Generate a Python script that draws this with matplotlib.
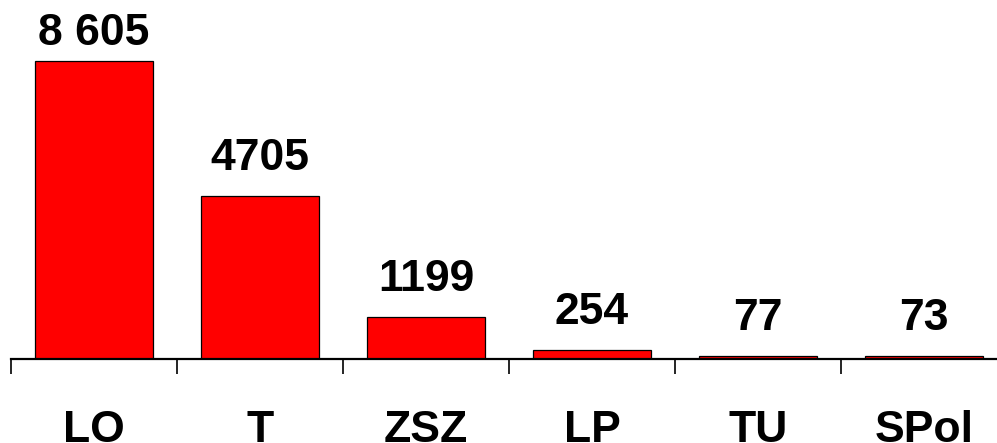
import matplotlib
matplotlib.use("Agg")
import matplotlib.pyplot as plt
import matplotlib.transforms as mtransforms

categories = ["LO", "T", "ZSZ", "LP", "TU", "SPol"]
values = [8605, 4705, 1199, 254, 77, 73]
value_labels = ["8 605", "4705", "1199", "254", "77", "73"]

plt.rcParams['font.family'] = ['Liberation Sans', 'DejaVu Sans']

W, H = 997, 443
fig = plt.figure(figsize=(W / 100, H / 100), dpi=100)
ax_left_px, ax_right_px = 11, 1007
ax_bottom_px, ax_top_px = 359, 10
ax = fig.add_axes([ax_left_px / W, 1 - ax_bottom_px / H,
                   (ax_right_px - ax_left_px) / W, (ax_bottom_px - ax_top_px) / H])

n = len(categories)
xs = list(range(n))
ax.bar(xs, values, width=0.71, color="#ff0000", edgecolor="black", linewidth=0.9, zorder=2)

ax.set_xlim(-0.5, n - 0.5)
ymax = max(values) * (ax_bottom_px - ax_top_px) / (ax_bottom_px - 61)
ax.set_ylim(0, ymax)

for s in ["top", "right", "left"]:
    ax.spines[s].set_visible(False)
ax.spines["bottom"].set_linewidth(1.6)
ax.spines["bottom"].set_zorder(3)
ax.set_yticks([])
ax.set_xticks([i - 0.5 for i in range(n + 1)])
ax.set_xticklabels([])
ax.tick_params(axis="x", direction="out", length=11, width=1.2, color="black")

vmax = max(values)
for x, v, lab in zip(xs, values, value_labels):
    off = 11.5 if v == vmax else 18.8
    ax.annotate(lab, xy=(x, v), xytext=(0, off), textcoords="offset points",
                ha="center", va="baseline", fontsize=32, fontweight="bold",
                color="black", annotation_clip=False)

trans = mtransforms.blended_transform_factory(ax.transData, fig.transFigure)
for x, c in zip(xs, categories):
    ax.text(x, 1.5 / H, c, transform=trans, ha="center", va="baseline",
            fontsize=32, fontweight="bold", color="black", clip_on=False)

fig.savefig("out.png", dpi=100)
